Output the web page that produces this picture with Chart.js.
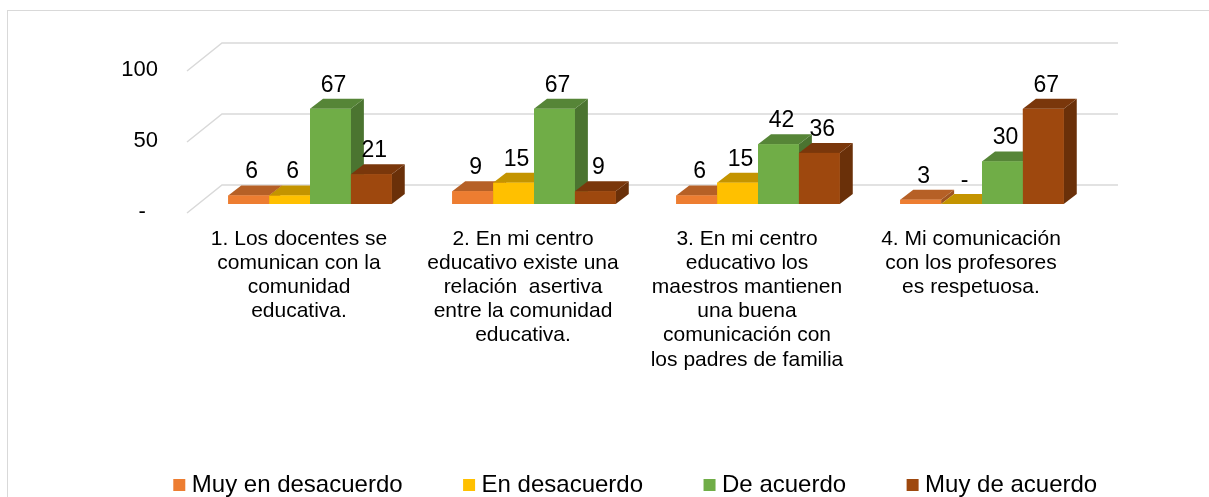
<!DOCTYPE html>
<html>
  <head>
    <meta charset="UTF-8" />
    <title>Comunicación con la comunidad educativa</title>
    <style>
      html,
      body {
        margin: 0;
        padding: 0;
        width: 100%;
        height: 100%;
        overflow: hidden;
        background: #fff;
      }
      .frame {
        position: absolute;
        left: 7px;
        top: 10px;
        width: 1300px;
        height: 600px;
        border: 1px solid #d9d9d9;
      }
      #chart {
        position: absolute;
        left: 0;
        top: 0;
      }
    </style>
    <script src="https://cdn.jsdelivr.net/npm/chart.js"></script>
  </head>
  <body>
    <div class="frame"></div>
    <canvas id="chart" width="1276" height="507"></canvas>
    <script>
      // datos
      const categories = [
        ["1. Los docentes se", "comunican con la", "comunidad", "educativa."],
        ["2. En mi centro", "educativo existe una", "relación  asertiva", "entre la comunidad", "educativa."],
        ["3. En mi centro", "educativo los", "maestros mantienen", "una buena", "comunicación con", "los padres de familia"],
        ["4. Mi comunicación", "con los profesores", "es respetuosa."]
      ];
      const seriesNames = ["Muy en desacuerdo", "En desacuerdo", "De acuerdo", "Muy de acuerdo"];
      const muyEnDesacuerdo = [6, 9, 6, 3];
      const enDesacuerdo = [6, 15, 15, 0];
      const deAcuerdo = [67, 67, 42, 30];
      const muyDeAcuerdo = [21, 9, 36, 67];
      const yTicks = [0, 50, 100];

      const colors = ["#ED7D31", "#FFC000", "#70AD47", "#9E480E"];
      const font = "'Liberation Sans', Arial, sans-serif";

      // profundidad de las barras y del suelo
      const dx = 13, dy = 10;
      const fx = 11, fy = 9;

      function shade(hex, f) {
        const n = parseInt(hex.slice(1), 16);
        const r = Math.round(((n >> 16) & 255) * f);
        const g = Math.round(((n >> 8) & 255) * f);
        const b = Math.round((n & 255) * f);
        return "rgb(" + r + "," + g + "," + b + ")";
      }

      function poly(ctx, pts) {
        ctx.beginPath();
        ctx.moveTo(pts[0][0], pts[0][1]);
        for (let i = 1; i < pts.length; i++) ctx.lineTo(pts[i][0], pts[i][1]);
        ctx.closePath();
        ctx.fill();
      }

      const bars3d = {
        id: "bars3d",
        beforeDatasetsDraw(chart) {
          const { ctx, chartArea } = chart;
          const ys = chart.scales.y;
          ctx.save();
          ctx.strokeStyle = "#d9d9d9";
          ctx.lineWidth = 1.5;
          yTicks.forEach((v) => {
            const y = ys.getPixelForValue(v);
            ctx.beginPath();
            ctx.moveTo(chartArea.left - fx, y + fy);
            ctx.lineTo(chartArea.left + dx + fx, y - dy - fy);
            ctx.lineTo(chartArea.right + dx + fx, y - dy - fy);
            ctx.stroke();
          });
          ctx.restore();
        },
        afterDatasetsDraw(chart) {
          const ctx = chart.ctx;
          const metas = chart.data.datasets.map((d, i) => chart.getDatasetMeta(i));
          ctx.save();
          for (let c = 0; c < categories.length; c++) {
            metas.forEach((meta, i) => {
              const p = meta.data[c].getProps(["x", "y", "base", "width"], true);
              const l = p.x - p.width / 2, r = p.x + p.width / 2;
              const col = colors[i];
              ctx.fillStyle = shade(col, 0.67);
              poly(ctx, [[r, p.y], [r + dx, p.y - dy], [r + dx, p.base - dy], [r, p.base]]);
              ctx.fillStyle = shade(col, 0.77);
              poly(ctx, [[l, p.y], [l + dx, p.y - dy], [r + dx, p.y - dy], [r, p.y]]);
              ctx.fillStyle = col;
              ctx.fillRect(l, p.y, p.width, p.base - p.y);
            });
          }
          // etiquetas de datos
          ctx.fillStyle = "#000";
          ctx.font = "23px " + font;
          ctx.textAlign = "center";
          ctx.textBaseline = "alphabetic";
          metas.forEach((meta, i) => {
            const values = chart.data.datasets[i].data;
            meta.data.forEach((bar, c) => {
              const p = bar.getProps(["x", "y"], true);
              const txt = values[c] === 0 ? "-" : String(values[c]);
              ctx.fillText(txt, p.x + 3, p.y - dy - 7);
            });
          });
          ctx.restore();
        }
      };

      const seriesValues = [muyEnDesacuerdo, enDesacuerdo, deAcuerdo, muyDeAcuerdo];

      new Chart(document.getElementById("chart"), {
        type: "bar",
        data: {
          labels: categories,
          datasets: seriesNames.map((name, i) => ({
            label: name,
            data: seriesValues[i],
            backgroundColor: colors[i],
            borderWidth: 0,
            pointStyle: "rect",
            barPercentage: 1,
            categoryPercentage: 0.73
          }))
        },
        options: {
          responsive: false,
          animation: false,
          devicePixelRatio: 1,
          layout: { padding: { top: 62, left: 0, right: 0, bottom: 0 } },
          font: { family: font },
          scales: {
            x: {
              grid: { display: false, drawTicks: false },
              border: { display: false },
              ticks: {
                padding: 23,
                labelOffset: -11,
                maxRotation: 0,
                autoSkip: false,
                color: "#000",
                font: { family: font, size: 21, lineHeight: 1.15 }
              },
              afterFit: (s) => { s.height = 203; }
            },
            y: {
              min: 0,
              max: 100,
              position: "left",
              grid: { display: false, drawTicks: false },
              border: { display: false },
              ticks: {
                stepSize: 50,
                padding: 40,
                labelOffset: 8,
                color: "#000",
                font: { family: font, size: 22 },
                callback: (v) => (v === 0 ? "-  " : v)
              },
              afterFit: (s) => { s.width = 198; }
            },
            y2: {
              type: "linear",
              position: "right",
              grid: { display: false, drawTicks: false },
              border: { display: false },
              ticks: { display: false },
              afterFit: (s) => { s.width = 182; }
            }
          },
          plugins: {
            legend: {
              position: "bottom",
              labels: {
                usePointStyle: true,
                boxWidth: 1,
                boxHeight: 12,
                padding: 66,
                color: "#000",
                font: { family: font, size: 24 }
              }
            },
            tooltip: { enabled: false }
          }
        },
        plugins: [bars3d]
      });
    </script>
  </body>
</html>
